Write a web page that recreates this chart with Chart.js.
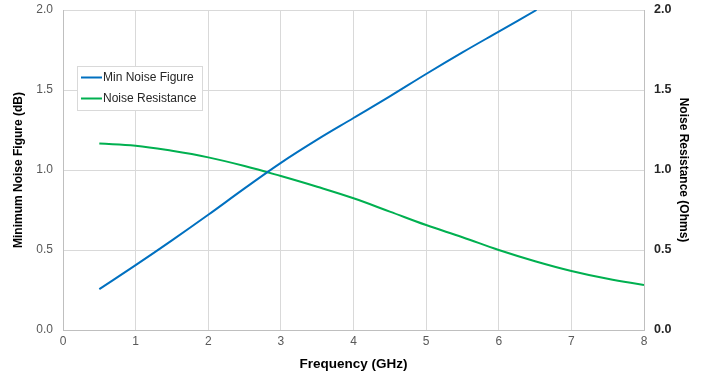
<!DOCTYPE html>
<html>
<head>
<meta charset="utf-8">
<script src="https://cdn.jsdelivr.net/npm/chart.js@4.4.1/dist/chart.umd.min.js"></script>
<style>
html,body{margin:0;padding:0;background:#fff;}
#wrap{position:relative;width:705px;height:375px;}
</style>
</head>
<body>
<div id="wrap"><canvas id="c" width="705" height="375"></canvas></div>
<script>
// Data
const nfFreq = [0.5, 1, 1.5, 2, 2.5, 3, 3.5, 4, 4.5, 5, 5.5, 6, 6.52];
const nfValues = [0.255, 0.405, 0.56, 0.72, 0.885, 1.045, 1.19, 1.325, 1.46, 1.6, 1.735, 1.865, 2.0];
const rnFreq = [0.5, 1, 1.5, 2, 2.5, 3, 3.5, 4, 4.5, 5, 5.5, 6, 6.5, 7, 7.5, 8];
const rnValues = [1.165, 1.152, 1.12, 1.079, 1.025, 0.962, 0.895, 0.823, 0.74, 0.656, 0.58, 0.5, 0.43, 0.369, 0.32, 0.281];
const seriesLabels = ['Min Noise Figure', 'Noise Resistance'];
const xTitle = 'Frequency (GHz)';
const yLeftTitle = 'Minimum Noise Figure (dB)';
const yRightTitle = 'Noise Resistance (Ohms)';

const FONT = "'Liberation Sans', Arial, sans-serif";

const legendPlugin = {
  id: 'boxLegend',
  afterDraw(chart) {
    const ctx = chart.ctx;
    const x0 = 77.5, y0 = 66.5, w = 125, h = 44;
    ctx.save();
    ctx.fillStyle = '#ffffff';
    ctx.fillRect(x0, y0, w, h);
    ctx.strokeStyle = '#d9d9d9';
    ctx.lineWidth = 1;
    ctx.strokeRect(x0, y0, w, h);
    ctx.font = '12px ' + FONT;
    ctx.textBaseline = 'middle';
    chart.data.datasets.forEach((ds, i) => {
      const yy = 77.5 + i * 21;
      ctx.strokeStyle = ds.borderColor;
      ctx.lineWidth = 2;
      ctx.beginPath();
      ctx.moveTo(81, yy);
      ctx.lineTo(102, yy);
      ctx.stroke();
      ctx.fillStyle = '#262626';
      ctx.fillText(ds.label, 103, yy);
    });
    ctx.restore();
  }
};

const toXY = (xs, ys) => xs.map((x, i) => ({x: x, y: ys[i]}));
const fixV = w => s => { s.width = w; s.paddingTop = 0; s.paddingBottom = 0; };

new Chart(document.getElementById('c'), {
  type: 'line',
  data: {
    datasets: [
      {
        label: seriesLabels[0],
        data: toXY(nfFreq, nfValues),
        borderColor: '#0070C0',
        borderWidth: 2,
        pointRadius: 0,
        tension: 0.4,
        yAxisID: 'y'
      },
      {
        label: seriesLabels[1],
        data: toXY(rnFreq, rnValues),
        borderColor: '#00B050',
        borderWidth: 2,
        pointRadius: 0,
        tension: 0.4,
        yAxisID: 'y1'
      }
    ]
  },
  options: {
    responsive: false,
    animation: false,
    devicePixelRatio: 1,
    layout: {padding: {top: 10, left: 0, right: 0, bottom: 0}},
    plugins: {legend: {display: false}, tooltip: {enabled: false}},
    scales: {
      x: {
        type: 'linear',
        min: 0, max: 8,
        afterFit: s => { s.height = 45; s.paddingLeft = 0; s.paddingRight = 0; },
        ticks: {stepSize: 1, padding: 4, color: '#595959', font: {family: FONT, size: 12}},
        grid: {color: '#d9d9d9', drawTicks: false},
        border: {color: '#bfbfbf'},
        title: {display: true, text: xTitle, color: '#000', font: {family: FONT, size: 13.5, weight: 'bold'}, padding: {top: 0, bottom: 3}}
      },
      y: {
        position: 'left',
        min: 0, max: 2,
        afterFit: fixV(63),
        ticks: {stepSize: 0.5, padding: 10, color: '#595959', font: {family: FONT, size: 12}, callback: v => v.toFixed(1)},
        grid: {color: '#d9d9d9', drawTicks: false},
        border: {color: '#bfbfbf'},
        title: {display: true, text: yLeftTitle, color: '#000', font: {family: FONT, size: 12, weight: 'bold'}, padding: {top: 11, bottom: 0}}
      },
      y1: {
        position: 'right',
        min: 0, max: 2,
        afterFit: fixV(61),
        ticks: {stepSize: 0.5, padding: 10, color: '#262626', font: {family: FONT, size: 12.5, weight: 'bold'}, callback: v => v.toFixed(1)},
        grid: {display: false, drawTicks: false},
        border: {color: '#bfbfbf'},
        title: {display: true, text: yRightTitle, color: '#000', font: {family: FONT, size: 12, weight: 'bold'}, padding: {top: 14, bottom: 0}}
      }
    }
  },
  plugins: [legendPlugin]
});
</script>
</body>
</html>
